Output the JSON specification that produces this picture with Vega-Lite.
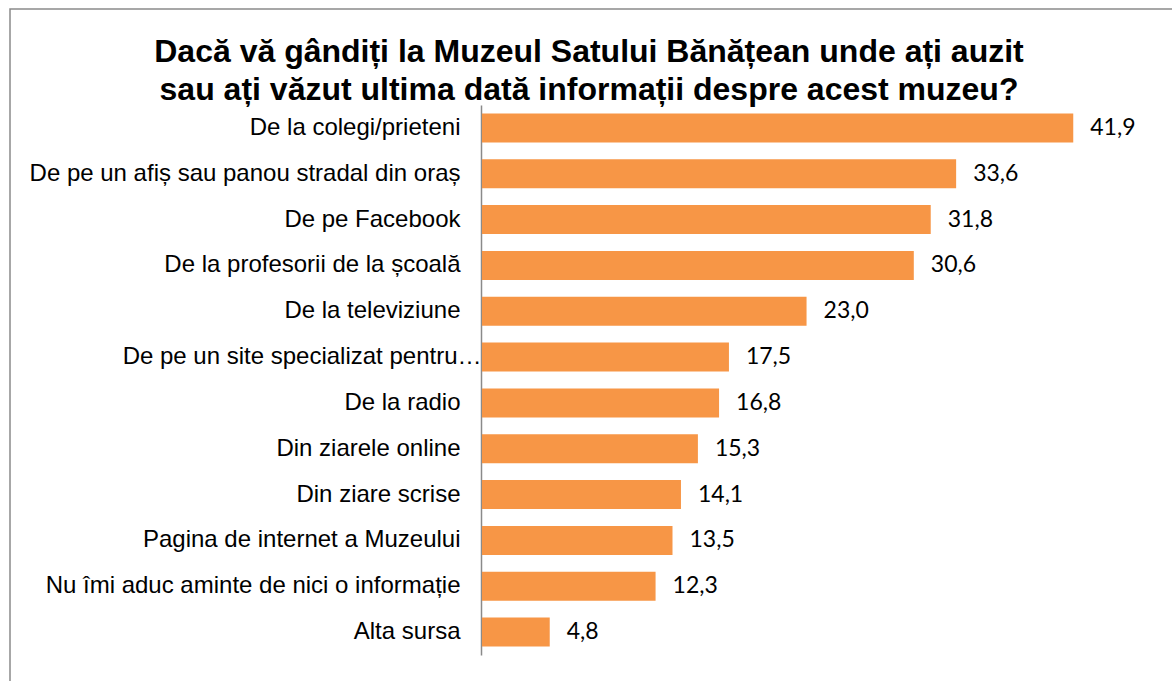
{
  "$schema": "https://vega.github.io/schema/vega-lite/v6.json",
  "autosize": {"type": "none"},
  "padding": {"left": 10, "top": 9, "right": 0, "bottom": 0},
  "width": 1170,
  "height": 690,
  "background": "white",
  "config": {
    "view": {"stroke": "#8a8a8a", "strokeWidth": 1.5},
    "locale": {"number": {"decimal": ",", "thousands": ".", "grouping": [3], "currency": ["", ""]}}
  },
  "title": {
    "text": ["Dacă vă gândiți la Muzeul Satului Bănățean unde ați auzit", "sau ați văzut ultima dată informații despre acest muzeu?"],
    "font": "Liberation Sans",
    "fontSize": 32,
    "fontWeight": "bold",
    "color": "black",
    "anchor": "middle",
    "frame": "group",
    "orient": "top",
    "offset": -98,
    "dx": -6,
    "lineHeight": 38
  },
  "data": {
    "values": [
      {"label": "De la colegi/prieteni", "value": 41.9},
      {"label": "De pe un afiș sau panou stradal din oraș", "value": 33.6},
      {"label": "De pe Facebook", "value": 31.8},
      {"label": "De la profesorii de la școală", "value": 30.6},
      {"label": "De la televiziune", "value": 23.0},
      {"label": "De pe un site specializat pentru…", "value": 17.5},
      {"label": "De la radio", "value": 16.8},
      {"label": "Din ziarele online", "value": 15.3},
      {"label": "Din ziare scrise", "value": 14.1},
      {"label": "Pagina de internet a Muzeului", "value": 13.5},
      {"label": "Nu îmi aduc aminte de nici o informație", "value": 12.3},
      {"label": "Alta sursa", "value": 4.8}
    ]
  },
  "encoding": {
    "y": {
      "field": "label",
      "type": "nominal",
      "sort": null,
      "scale": {"range": [96, 646], "paddingInner": 0.367, "paddingOuter": 0.183},
      "axis": {
        "title": null,
        "orient": "left",
        "offset": -471,
        "domainColor": "#8a8a8a",
        "domainWidth": 1.5,
        "ticks": false,
        "labelFont": "Liberation Sans",
        "labelFontSize": 24,
        "labelColor": "black",
        "labelLimit": 600,
        "labelPadding": {"condition": {"test": "datum.value == 'De pe un site specializat pentru…'", "value": 0}, "value": 21}
      }
    },
    "x": {
      "field": "value",
      "type": "quantitative",
      "scale": {"domain": [0, 45], "range": [472, 1107], "nice": false, "zero": true},
      "axis": null
    }
  },
  "layer": [
    {"mark": {"type": "bar", "color": "#F79646", "cornerRadius": 0}},
    {
      "mark": {"type": "text", "align": "left", "baseline": "middle", "dx": 17, "font": "Lato", "fontSize": 23, "color": "black"},
      "encoding": {"text": {"field": "value", "type": "quantitative", "format": ".1f"}}
    }
  ]
}
